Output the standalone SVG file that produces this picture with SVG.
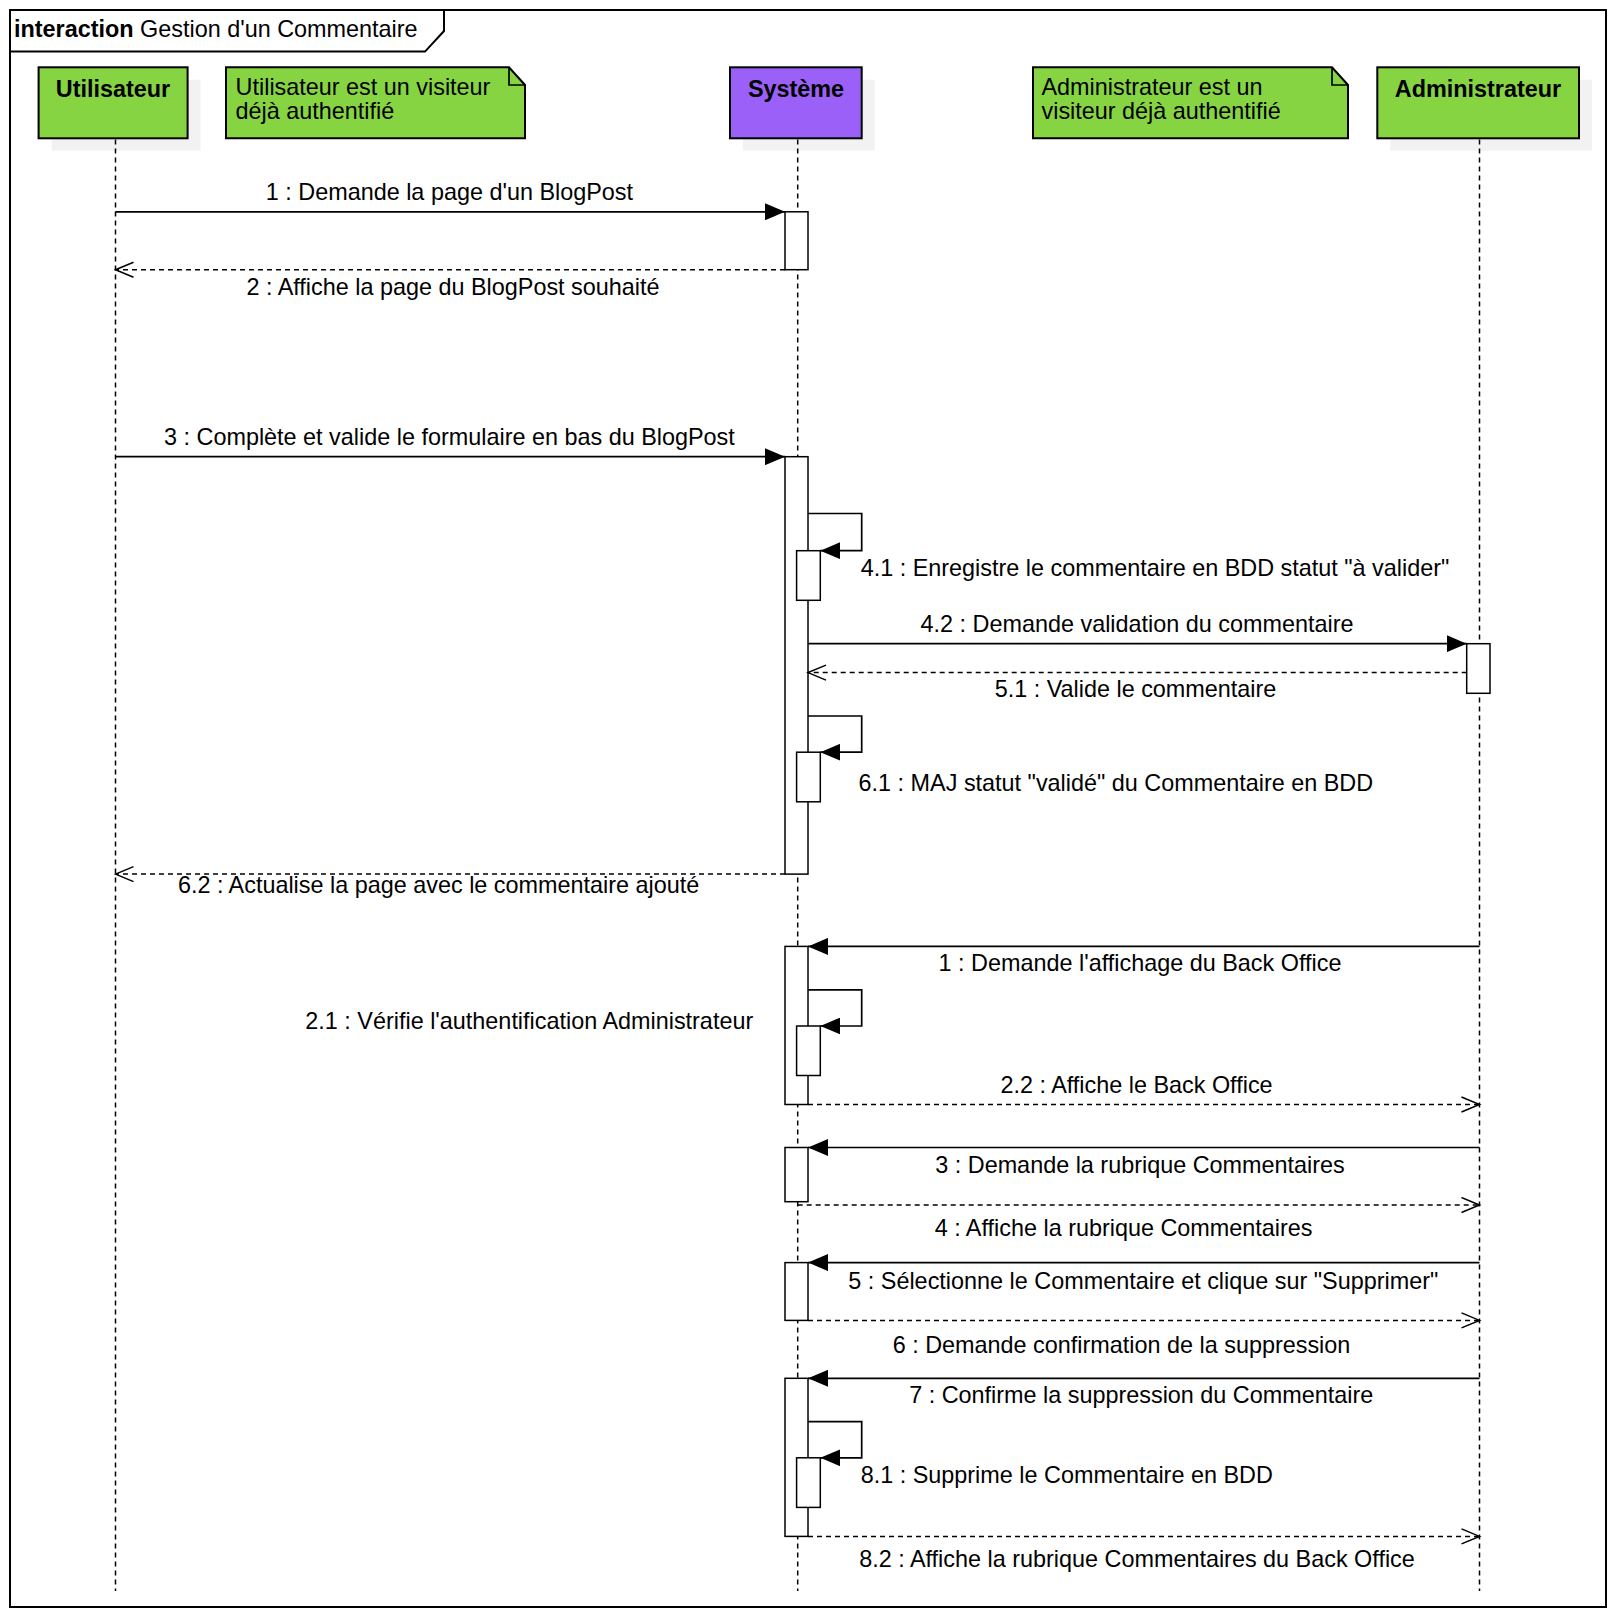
<svg xmlns="http://www.w3.org/2000/svg" width="1620" height="1620" viewBox="0 0 1620 1620">
<style>
text{font-family:"Liberation Sans",Arial,sans-serif;font-size:23.4px;fill:#000}
.b{font-weight:bold}
.m{text-anchor:middle}
.e{text-anchor:end}
.box{stroke:#000;stroke-width:2}
.g{fill:#87d443}
.p{fill:#9b60f7}
.sh{fill:#f2f2f2}
.life{stroke:#000;stroke-width:1.5;stroke-dasharray:5 4;fill:none}
.act{fill:#fff;stroke:#000;stroke-width:1.5}
.msg{stroke:#000;stroke-width:1.7;fill:none;marker-end:url(#fa)}
.ret{stroke:#000;stroke-width:1.5;fill:none;stroke-dasharray:5 4;marker-end:url(#oa)}
</style>
<defs>
<marker id="fa" viewBox="0 0 20 17" refX="20" refY="8.5" markerWidth="20" markerHeight="17" markerUnits="userSpaceOnUse" orient="auto"><path d="M0,0 L20,8.5 L0,17 Z" fill="#000"/></marker>
<marker id="oa" viewBox="-1 -1 21 18" refX="18" refY="7.5" markerWidth="21" markerHeight="18" markerUnits="userSpaceOnUse" orient="auto"><path d="M0,0 L18,7.5 L0,15" fill="none" stroke="#000" stroke-width="1.5"/></marker>
</defs>
<rect width="1620" height="1620" fill="#fff"/>
<g id="frame">
<rect x="10" y="10" width="1596" height="1597" fill="none" stroke="#000" stroke-width="2"/>
<path d="M10,51.6 L425,51.6 L444,31 L444,10" fill="none" stroke="#000" stroke-width="2"/>
<text x="14" y="37"><tspan class="b">interaction</tspan> Gestion d'un Commentaire</text>
</g>
<g id="utilisateur">
<rect class="sh" x="51.6" y="79.7" width="149" height="71"/>
<rect class="box g" x="38.6" y="67.3" width="149" height="71"/>
<text class="b m" x="113" y="97">Utilisateur</text>
</g>
<g id="note-utilisateur">
<path class="box g" d="M226,67.3 L509,67.3 L525,85 L525,138.3 L226,138.3 Z" stroke-width="1.7"/>
<path d="M509,67.3 L509,85 L525,85" fill="none" stroke="#000" stroke-width="1.7"/>
<text x="235.6" y="95">Utilisateur est un visiteur</text>
<text x="235.6" y="119">déjà authentifié</text>
</g>
<g id="systeme">
<rect class="sh" x="743" y="79.7" width="131.7" height="71"/>
<rect class="box p" x="730" y="67.3" width="131.7" height="71"/>
<text class="b m" x="796" y="97">Système</text>
</g>
<g id="note-administrateur">
<path class="box g" d="M1033,67.3 L1332,67.3 L1348,85 L1348,138.3 L1033,138.3 Z" stroke-width="1.7"/>
<path d="M1332,67.3 L1332,85 L1348,85" fill="none" stroke="#000" stroke-width="1.7"/>
<text x="1041.5" y="95">Administrateur est un</text>
<text x="1041.5" y="119">visiteur déjà authentifié</text>
</g>
<g id="administrateur">
<rect class="sh" x="1390.3" y="79.7" width="201.7" height="71"/>
<rect class="box g" x="1377.3" y="67.3" width="201.7" height="71"/>
<text class="b m" x="1478" y="97">Administrateur</text>
</g>
<g id="lifelines">
<line class="life" x1="115.5" y1="139.5" x2="115.5" y2="1591"/>
<line class="life" x1="797.7" y1="139.5" x2="797.7" y2="1591"/>
<line class="life" x1="1479.5" y1="139.5" x2="1479.5" y2="1591"/>
</g>
<g id="activations">
<rect class="act" x="785" y="211.8" width="23" height="57.9"/>
<rect class="act" x="785" y="456.7" width="23" height="417.4"/>
<rect class="act" x="796.6" y="550.7" width="23.7" height="49.6"/>
<rect class="act" x="796.6" y="752.2" width="23.7" height="49.6"/>
<rect class="act" x="1466.7" y="643.7" width="23.3" height="49.6"/>
<rect class="act" x="785" y="946.4" width="23" height="158.1"/>
<rect class="act" x="796.6" y="1026" width="23.7" height="49.5"/>
<rect class="act" x="785" y="1147.5" width="23" height="54.2"/>
<rect class="act" x="785" y="1262.6" width="23" height="57.8"/>
<rect class="act" x="785" y="1378.3" width="23" height="158.1"/>
<rect class="act" x="796.6" y="1457.8" width="23.7" height="49.6"/>
</g>
<g id="connectors">
<line class="msg" x1="115.5" y1="211.8" x2="785" y2="211.8"/>
<line class="ret" x1="785" y1="269.7" x2="115.5" y2="269.7"/>
<line class="msg" x1="115.5" y1="456.7" x2="785" y2="456.7"/>
<polyline class="msg" points="808,513.5 861.7,513.5 861.7,550.7 820.3,550.7"/>
<line class="msg" x1="808" y1="643.7" x2="1466.7" y2="643.7"/>
<line class="ret" x1="1466.7" y1="672.6" x2="808" y2="672.6"/>
<polyline class="msg" points="808,716 861.7,716 861.7,752.2 820.3,752.2"/>
<line class="ret" x1="785" y1="874.1" x2="115.5" y2="874.1"/>
<line class="msg" x1="1479.5" y1="946.4" x2="808" y2="946.4"/>
<polyline class="msg" points="808,989.8 861.7,989.8 861.7,1026 820.3,1026"/>
<line class="ret" x1="808" y1="1104.5" x2="1479.5" y2="1104.5"/>
<line class="msg" x1="1479.5" y1="1147.5" x2="808" y2="1147.5"/>
<line class="ret" x1="797.7" y1="1205" x2="1479.5" y2="1205"/>
<line class="msg" x1="1479.5" y1="1262.6" x2="808" y2="1262.6"/>
<line class="ret" x1="808" y1="1320.4" x2="1479.5" y2="1320.4"/>
<line class="msg" x1="1479.5" y1="1378.3" x2="808" y2="1378.3"/>
<polyline class="msg" points="808,1421.7 861.7,1421.7 861.7,1457.8 820.3,1457.8"/>
<line class="ret" x1="808" y1="1536.4" x2="1479.5" y2="1536.4"/>
</g>
<g id="labels">
<text class="m" x="449.4" y="200">1 : Demande la page d'un BlogPost</text>
<text class="m" x="453" y="294.5">2 : Affiche la page du BlogPost souhaité</text>
<text class="m" x="449.4" y="445.3">3 : Complète et valide le formulaire en bas du BlogPost</text>
<text x="860.7" y="575.5">4.1 : Enregistre le commentaire en BDD statut "à valider"</text>
<text class="m" x="1137" y="632.3">4.2 : Demande validation du commentaire</text>
<text class="m" x="1135.5" y="697.4">5.1 : Valide le commentaire</text>
<text x="858.6" y="791.4">6.1 : MAJ statut "validé" du Commentaire en BDD</text>
<text class="m" x="438.6" y="892.5">6.2 : Actualise la page avec le commentaire ajouté</text>
<text class="m" x="1140" y="971.2">1 : Demande l'affichage du Back Office</text>
<text class="e" x="753.2" y="1029">2.1 : Vérifie l'authentification Administrateur</text>
<text class="m" x="1136.5" y="1093">2.2 : Affiche le Back Office</text>
<text class="m" x="1140" y="1172.7">3 : Demande la rubrique Commentaires</text>
<text class="m" x="1123.6" y="1235.7">4 : Affiche la rubrique Commentaires</text>
<text class="m" x="1143.3" y="1289.4">5 : Sélectionne le Commentaire et clique sur "Supprimer"</text>
<text class="m" x="1121.5" y="1352.5">6 : Demande confirmation de la suppression</text>
<text class="m" x="1141.2" y="1403">7 : Confirme la suppression du Commentaire</text>
<text x="860.7" y="1482.6">8.1 : Supprime le Commentaire en BDD</text>
<text class="m" x="1137" y="1567.4">8.2 : Affiche la rubrique Commentaires du Back Office</text>
</g>
</svg>
